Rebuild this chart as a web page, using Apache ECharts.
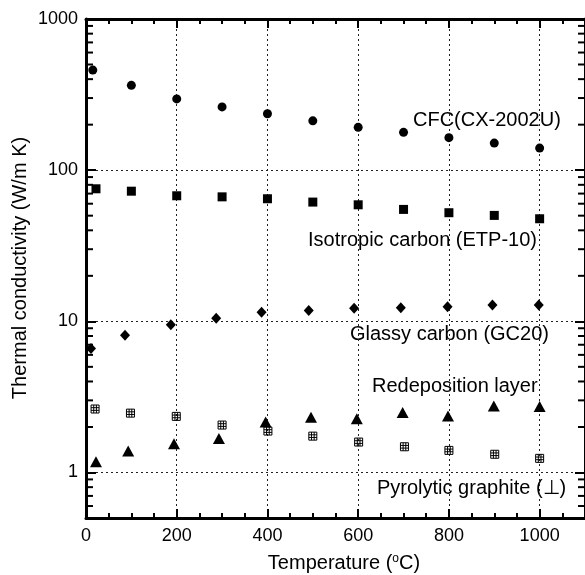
<!DOCTYPE html>
<html>
<head>
<meta charset="utf-8">
<script src="https://cdn.jsdelivr.net/npm/echarts@6/dist/echarts.min.js"></script>
<style>html,body{margin:0;padding:0;background:#fff}#c{width:585px;height:575px}</style>
</head>
<body>
<div id="c"></div>
<script>
// ---- data (Temperature in °C, thermal conductivity in W/m K) ----
const cfcT = [15, 100, 200, 300, 400, 500, 600, 700, 800, 900, 1000];
const cfcK = [459, 364, 296, 262, 236, 212, 192, 178, 164, 151, 140];
const isoT = [22, 100, 200, 300, 400, 500, 600, 700, 800, 900, 1000];
const isoK = [75.3, 72.6, 67.7, 66.6, 64.7, 61.5, 59, 55, 52.3, 50.2, 47.7];
const gcT = [11, 86, 187, 287, 387, 491, 591, 694, 797, 896, 998];
const gcK = [6.6, 8.1, 9.5, 10.5, 11.5, 11.8, 12.2, 12.3, 12.5, 12.8, 12.8];
const redT = [22, 93, 194, 293, 396, 496, 597, 698, 798, 899, 1000];
const redK = [1.18, 1.39, 1.55, 1.68, 2.16, 2.32, 2.27, 2.49, 2.36, 2.75, 2.73];
const pyrT = [20, 98, 199, 300, 401, 500, 601, 702, 800, 901, 1000];
const pyrK = [2.63, 2.47, 2.35, 2.06, 1.88, 1.74, 1.59, 1.48, 1.40, 1.32, 1.24];

const seriesNames = ['CFC(CX-2002U)', 'Isotropic carbon (ETP-10)', 'Glassy carbon (GC20)', 'Redeposition layer', 'Pyrolytic graphite (\u22A5)'];
const yMinorTicks = [0.6, 0.7, 0.8, 0.9, 2, 3, 4, 5, 6, 7, 8, 9, 20, 30, 40, 50, 60, 70, 80, 90, 200, 300, 400, 500, 600, 700, 800, 900];
const xMin = 0, xMax = 1100, xMajor = 200, xMinor = 50;
const yMin = 0.5, yMax = 1000;

const FONT = '"Liberation Sans", Arial, Helvetica, sans-serif';
const pair = (xs, ys) => xs.map((x, i) => [x, ys[i]]);

const chart = echarts.init(document.getElementById('c'), null, {renderer: 'canvas'});

function xAxisDef(pos, interval, opts) {
  return Object.assign({
    type: 'value', position: pos, min: xMin, max: xMax, interval: interval,
    axisLine: {show: true, onZero: false, lineStyle: {color: '#000', width: 3}},
    axisTick: {show: true, inside: true, length: 9, lineStyle: {color: '#000', width: 2}},
    axisLabel: {show: false},
    splitLine: {show: false}
  }, opts || {});
}
function yAxisDef(pos, opts) {
  return Object.assign({
    type: 'log', logBase: 10, position: pos, min: yMin, max: yMax,
    axisLine: {show: true, onZero: false, lineStyle: {color: '#000', width: 3}},
    axisTick: {show: true, inside: true, length: 10, lineStyle: {color: '#000', width: 2}},
    axisLabel: {show: false},
    splitLine: {show: false}
  }, opts || {});
}

const dotted = {show: true, lineStyle: {color: '#222', width: 1, type: [2, 3]}};
const blk = {color: '#000', opacity: 1};

const option = {
  animation: false,
  backgroundColor: '#fff',
  grid: {left: 86, top: 19, right: -1, bottom: 57, containLabel: false},
  xAxis: [
    xAxisDef('bottom', xMajor, {
      axisLabel: {show: true, showMaxLabel: false, color: '#000', fontSize: 18, fontFamily: FONT, margin: 9,
        formatter: v => String(Math.round(v))},
      splitLine: dotted
    }),
    xAxisDef('top', xMajor),
    xAxisDef('bottom', xMinor, {axisLine: {show: false}, axisTick: {show: true, inside: true, length: 5, lineStyle: {color: '#000', width: 2}}}),
    xAxisDef('top', xMinor, {axisLine: {show: false}, axisTick: {show: true, inside: true, length: 5, lineStyle: {color: '#000', width: 2}}})
  ],
  yAxis: [
    yAxisDef('left', {
      axisLabel: {show: true, color: '#000', fontSize: 18, fontFamily: FONT, margin: 8,
        formatter: v => (v >= 1 ? String(Math.round(v)) : '')},
      splitLine: dotted
    }),
    yAxisDef('right')
  ],
  series: [
    {name: seriesNames[0], type: 'scatter', data: pair(cfcT, cfcK), symbol: 'circle', symbolSize: 9, itemStyle: blk},
    {name: seriesNames[1], type: 'scatter', data: pair(isoT, isoK), symbol: 'rect', symbolSize: 9, itemStyle: blk},
    {name: seriesNames[2], type: 'scatter', data: pair(gcT, gcK), symbol: 'diamond', symbolSize: [10, 11], itemStyle: blk},
    {name: seriesNames[3], type: 'scatter', data: pair(redT, redK), symbol: 'triangle', symbolSize: [12, 11], itemStyle: blk},
    {name: seriesNames[4], type: 'scatter', data: pair(pyrT, pyrK),
      symbol: 'path://M0,0H9V9H0Z M3,0V9 M6,0V9 M0,3H9 M0,6H9', symbolSize: 8,
      itemStyle: {color: 'rgba(255,255,255,0)', borderColor: '#000', borderWidth: 1, opacity: 1}},
    // minor log ticks on left and right frame
    {type: 'scatter', silent: true, clip: false, data: yMinorTicks.map(v => [xMin, v]),
      symbol: 'rect', symbolSize: [7, 2], symbolOffset: [3.5, 0], itemStyle: blk},
    {type: 'scatter', silent: true, clip: false, data: yMinorTicks.map(v => [xMax, v]),
      symbol: 'rect', symbolSize: [7, 2], symbolOffset: [-3.5, 0], itemStyle: blk}
  ],
  graphic: [
    {type: 'text', x: 413, y: 120, style: {text: seriesNames[0], font: '20px ' + FONT, fill: '#000', textAlign: 'left', textVerticalAlign: 'middle'}},
    {type: 'text', x: 308, y: 240, style: {text: seriesNames[1], font: '20px ' + FONT, fill: '#000', textAlign: 'left', textVerticalAlign: 'middle'}},
    {type: 'text', x: 350, y: 334, style: {text: seriesNames[2], font: '20px ' + FONT, fill: '#000', textAlign: 'left', textVerticalAlign: 'middle'}},
    {type: 'text', x: 372, y: 386, style: {text: seriesNames[3], font: '20px ' + FONT, fill: '#000', textAlign: 'left', textVerticalAlign: 'middle'}},
    {type: 'text', x: 377, y: 488, style: {text: seriesNames[4], font: '20px ' + FONT, fill: '#000', textAlign: 'left', textVerticalAlign: 'middle'}},
    {type: 'text', x: 344, y: 563, style: {
      text: 'Temperature ({sup|o}C)', font: '20px ' + FONT, fill: '#000', textAlign: 'center', textVerticalAlign: 'middle',
      rich: {sup: {fontSize: 12, fontFamily: FONT, verticalAlign: 'top', padding: [0, 0, 7, 0]}}}},
    {type: 'text', x: 20, y: 268, rotation: Math.PI / 2, style: {
      text: 'Thermal conductivity (W/m K)', font: '20px ' + FONT, fill: '#000', textAlign: 'center', textVerticalAlign: 'middle'}}
  ]
};
chart.setOption(option);
</script>
</body>
</html>
